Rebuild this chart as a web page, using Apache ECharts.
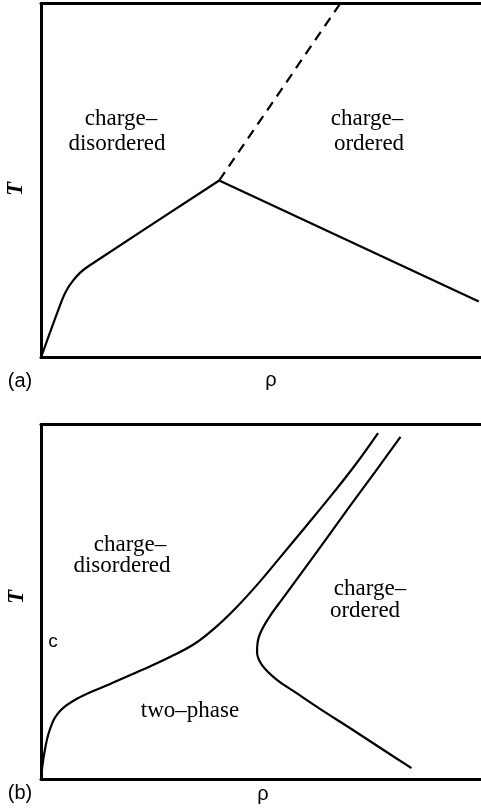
<!DOCTYPE html>
<html>
<head>
<meta charset="utf-8">
<script src="https://cdn.jsdelivr.net/npm/echarts@6/dist/echarts.min.js"></script>
<style>
  html, body { margin: 0; padding: 0; background: #fff; }
  #chart { width: 481px; height: 812px; }
</style>
</head>
<body>
<div id="chart"></div>
<script>
// Phase diagram sketches, density rho (x, 0-100) vs temperature T (y, 0-100)

// (a) upper panel: solid transition line rising from the origin to the peak
const aRiseRho = [0, 4.77, 5.91, 7.28, 8.86, 10.68, 40.5];
const aRiseT   = [0, 16.2, 19.2, 21.7, 23.9, 25.7, 50.0];
// solid line falling from the peak to the right edge
const aFallRho = [40.5, 99.5];
const aFallT   = [50.0, 15.8];
// dashed continuation above the peak
const aDashRho = [40.5, 68.0];
const aDashT   = [50.0, 100.0];

// (b) lower panel: left boundary of the two-phase region
const bLeftRho = [0, 0.68, 2.05, 4.32, 8.86, 15.7, 22.5, 29.3, 35.0, 39.8, 44.5, 49.3, 54.3, 60.0, 65.7, 71.4, 76.6];
const bLeftT   = [0, 6.9, 14.2, 19.3, 23.2, 26.9, 30.6, 34.5, 38.3, 43.0, 48.6, 55.1, 62.5, 71.0, 79.6, 88.6, 97.6];
// right boundary of the two-phase region
const bRightRho = [81.7, 75.9, 70.2, 64.8, 59.5, 55.0, 51.6, 49.5, 49.1, 50.2, 53.4, 58.0, 63.4, 70.2, 77.5, 84.2];
const bRightT   = [96.5, 86.6, 77.0, 67.7, 58.7, 51.1, 45.2, 40.1, 35.9, 32.3, 28.3, 24.4, 19.9, 14.5, 8.6, 3.2];

const zip = (xs, ys) => xs.map((x, i) => [x, ys[i]]);

const serif = '"Liberation Serif", "Times New Roman", serif';
const sans = '"Liberation Sans", Arial, sans-serif';

function label(text, x, y, font, size, extra) {
  return Object.assign({
    type: 'text',
    x: x, y: y,
    style: {
      text: text,
      fill: '#000',
      font: size + 'px ' + font,
      textAlign: 'center',
      textVerticalAlign: 'middle'
    }
  }, extra || {});
}

function tLabel(x, y) {
  return {
    type: 'text', x: x, y: y, rotation: Math.PI / 2,
    style: { text: 'T', fill: '#000', font: 'italic bold 23px ' + serif, textAlign: 'center', textVerticalAlign: 'middle' }
  };
}

const frame = { show: true, onZero: false, lineStyle: { color: '#000', width: 3 } };
const hidden = { axisTick: { show: false }, axisLabel: { show: false }, splitLine: { show: false } };

function xAxes(gridIndex) {
  return [
    Object.assign({ type: 'value', gridIndex: gridIndex, min: 0, max: 100, position: 'bottom', axisLine: frame }, hidden),
    Object.assign({ type: 'value', gridIndex: gridIndex, min: 0, max: 100, position: 'top', axisLine: frame }, hidden)
  ];
}

const lineStyle = { color: '#000', width: 2.2 };

const chart = echarts.init(document.getElementById('chart'), null, { renderer: 'canvas' });

chart.setOption({
  backgroundColor: '#fff',
  animation: false,
  grid: [
    { left: 41, top: 3.5, right: 0, height: 354 },
    { left: 41, top: 424.5, right: 0, height: 355 }
  ],
  xAxis: xAxes(0).concat(xAxes(1)),
  yAxis: [
    Object.assign({ type: 'value', gridIndex: 0, min: 0, max: 100, position: 'left', axisLine: frame }, hidden),
    Object.assign({ type: 'value', gridIndex: 1, min: 0, max: 100, position: 'left', axisLine: frame }, hidden)
  ],
  series: [
    { type: 'line', xAxisIndex: 0, yAxisIndex: 0, data: zip(aRiseRho, aRiseT), smooth: 0.3, symbol: 'none', lineStyle: lineStyle },
    { type: 'line', xAxisIndex: 0, yAxisIndex: 0, data: zip(aFallRho, aFallT), symbol: 'none', lineStyle: lineStyle },
    { type: 'line', xAxisIndex: 0, yAxisIndex: 0, data: zip(aDashRho, aDashT), symbol: 'none', lineStyle: { color: '#000', width: 2.2, type: [10, 7] } },
    { type: 'line', xAxisIndex: 2, yAxisIndex: 1, data: zip(bLeftRho, bLeftT), smooth: 0.4, symbol: 'none', lineStyle: lineStyle },
    { type: 'line', xAxisIndex: 2, yAxisIndex: 1, data: zip(bRightRho, bRightT), smooth: 0.4, symbol: 'none', lineStyle: lineStyle }
  ],
  graphic: [
    // panel (a)
    label('charge\u2013', 121, 119, serif, 23),
    label('disordered', 117, 144, serif, 23),
    label('charge\u2013', 367, 119, serif, 23),
    label('ordered', 369, 144, serif, 23),
    label('(a)', 20, 381, sans, 20),
    label('\u03c1', 271, 380, sans, 20),
    tLabel(16, 189),
    // panel (b)
    label('charge\u2013', 130, 545, serif, 23),
    label('disordered', 122, 566, serif, 23),
    label('charge\u2013', 370, 589, serif, 23),
    label('ordered', 365, 611, serif, 23),
    label('two\u2013phase', 190, 711, serif, 23),
    label('c', 53, 642, sans, 19),
    label('(b)', 20, 793, sans, 20),
    label('\u03c1', 263, 794, sans, 20),
    tLabel(17, 597)
  ]
});
</script>
</body>
</html>
